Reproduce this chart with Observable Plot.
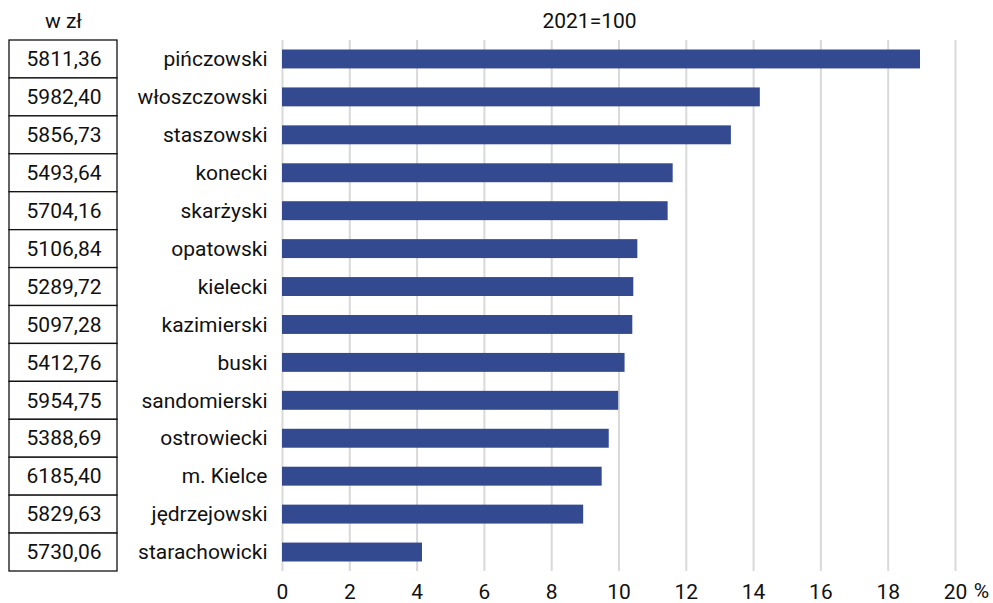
<!DOCTYPE html>
<html>
<head>
<meta charset="utf-8">
<script src="https://cdn.jsdelivr.net/npm/d3@7"></script>
<script src="https://cdn.jsdelivr.net/npm/@observablehq/plot@0.6"></script>
<style>
  html, body { margin: 0; padding: 0; background: #fff; }
  #chart svg { display: block; }
</style>
</head>
<body>
<div id="chart"></div>
<script>
const powiaty = ["pińczowski","włoszczowski","staszowski","konecki","skarżyski","opatowski","kielecki","kazimierski","buski","sandomierski","ostrowiecki","m. Kielce","jędrzejowski","starachowicki"];
const dynamika = [18.96, 14.20, 13.34, 11.61, 11.46, 10.56, 10.44, 10.41, 10.18, 9.99, 9.71, 9.50, 8.95, 4.16];
const wynagrodzenie = [5811.36, 5982.40, 5856.73, 5493.64, 5704.16, 5106.84, 5289.72, 5097.28, 5412.76, 5954.75, 5388.69, 6185.40, 5829.63, 5730.06];
const xTicks = [0, 2, 4, 6, 8, 10, 12, 14, 16, 18, 20];
const title = "2021=100";
const tableHeader = "w zł";

const data = powiaty.map((name, i) => ({name, value: dynamika[i], pay: wynagrodzenie[i]}));
const fmt = v => v.toFixed(2).replace(".", ",");

const chart = Plot.plot({
  width: 993,
  height: 603,
  marginLeft: 282,
  marginRight: 38,
  marginTop: 40,
  marginBottom: 32,
  style: {fontFamily: "Roboto, 'Noto Sans', sans-serif", fontSize: "21px", color: "#111", background: "#fff"},
  x: {domain: [0, 20], ticks: xTicks, tickSize: 0, tickPadding: 13, label: null},
  y: {domain: powiaty, padding: 0, round: false, tickSize: 0, tickPadding: 15, label: null},
  marks: [
    Plot.ruleX(xTicks, {stroke: "#d9d9d9", strokeWidth: 2}),
    Plot.barX(data, {x: "value", y: "name", fill: "#344a90", insetTop: 9.5, insetBottom: 9.5}),
    Plot.barX(data, {x1: 0, x2: 0, y: "name", insetLeft: -273, insetRight: 165, fill: "white", stroke: "#111", strokeWidth: 1.3}),
    Plot.text(data, {x: 0, y: "name", text: d => fmt(d.pay), textAnchor: "end", dx: -181, fill: "#111"}),
    Plot.text([tableHeader], {frameAnchor: "top-left", lineAnchor: "middle", dx: -219, dy: -19, textAnchor: "middle", fill: "#111"}),
    Plot.text([title], {frameAnchor: "top-left", lineAnchor: "middle", dx: 307, dy: -19, textAnchor: "middle", fill: "#111"}),
    Plot.text(["%"], {x: 20, frameAnchor: "bottom", lineAnchor: "middle", dx: 26, dy: 20, textAnchor: "middle", fill: "#111"})
  ]
});
document.getElementById("chart").append(chart);
</script>
</body>
</html>
